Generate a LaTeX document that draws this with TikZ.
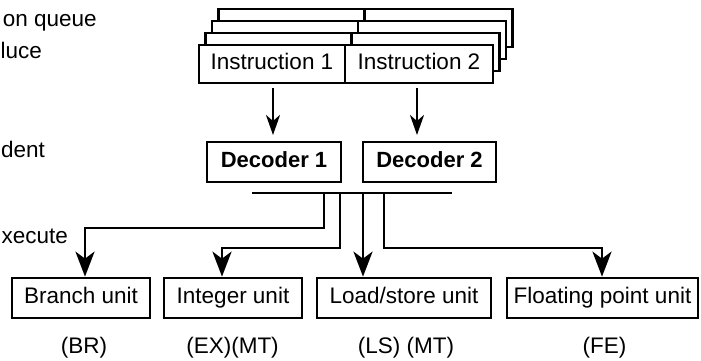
\documentclass[tikz,border=0pt]{standalone}
\usepackage{fontspec}
\setmainfont{Liberation Sans}
\usetikzlibrary{arrows.meta,calc}
\tikzset{
  txt/.style={font=\fontsize{22.5pt}{27pt}\selectfont, inner sep=0pt},
  box/.style={draw=black, fill=white, line width=2.7pt, inner sep=0pt, minimum height=38pt,
    text height=16pt, text depth=4.5pt, font=\fontsize{22.5pt}{27pt}\selectfont},
  bbox/.style={box, minimum height=40pt},
  conn/.style={line width=2.7pt, line cap=rect},
  smallarrow/.style={line width=2.5pt, -{Stealth[length=20pt,width=14pt,inset=6pt]}},
  bigarrow/.style={line width=2.7pt, -{Stealth[length=25pt,width=19pt,inset=7pt]}},
}
\begin{document}
\begin{tikzpicture}[x=1pt,y=-1pt]
\useasboundingbox (0,0) rectangle (701,360);
\fill[white] (0,0) rectangle (701,360);
% stacked instruction queue (back to front)
\node[box, minimum width=146pt] (s3a) at (291.5,28) {};
\node[box, minimum width=148pt] (s3b) at (438.5,28) {};
\node[box, minimum width=146pt] (s2a) at (285,40) {};
\node[box, minimum width=148pt] (s2b) at (432,40) {};
\node[box, minimum width=146pt] (s1a) at (278.5,52) {};
\node[box, minimum width=148pt] (s1b) at (425.5,52) {};
\node[box, minimum width=146pt] (i1) at (272,64) {Instruction 1};
\node[box, minimum width=148pt] (i2) at (419,64) {Instruction 2};
% decoders
\node[bbox, minimum width=134pt, font=\fontsize{22pt}{27pt}\selectfont\bfseries] (d1) at (274,162) {Decoder 1};
\node[bbox, minimum width=133pt, font=\fontsize{22pt}{27pt}\selectfont\bfseries] (d2) at (429.5,162) {Decoder 2};
\coordinate (a1) at (273,88);
\coordinate (a2) at (417,88);
\draw[smallarrow] (a1) -- (273,135);
\draw[smallarrow] (a2) -- (417,135);
% execution units
\node[bbox, minimum width=138pt] (br) at (81,298) {Branch unit};
\node[bbox, minimum width=138pt] (int) at (233,298) {Integer unit};
\node[bbox, minimum width=174pt] (ls) at (404,298) {Load/store unit};
\node[bbox, minimum width=191pt] (fp) at (602.5,298) {Floating point unit};
% bus
\coordinate (busL) at (253,193);
\coordinate (busR) at (451,193);
\draw[conn] (busL) -- (busR);
\coordinate (t1) at (324,193);
\coordinate (t2) at (340,193);
\coordinate (t3) at (363,193);
\coordinate (t4) at (384,193);
\coordinate (c1) at (85,228);
\coordinate (c2) at (222,248);
\coordinate (c4) at (602,248);
\draw[conn] (t1) |- (c1);
\draw[bigarrow] (c1) -- (c1 |- br.north);
\draw[conn] (t2) |- (c2);
\draw[bigarrow] (c2) -- (c2 |- int.north);
\draw[bigarrow] (t3) -- (t3 |- ls.north);
\draw[conn] (t4) |- (c4);
\draw[bigarrow] (c4) -- (c4 |- fp.north);
% unit labels
\node[txt, anchor=base] (lbr) at (84,353) {(BR)};
\node[txt, anchor=base] (lint) at (232.5,353) {(EX)(MT)};
\node[txt, anchor=base] (lls) at (406,353) {(LS) (MT)};
\node[txt, anchor=base] (lfp) at (604.5,353) {(FE)};
% clipped side texts
\node[txt, anchor=base east] (q1) at (97,26) {on queue};
\node[txt, anchor=base west] (q2) at (0.5,58) {luce};
\node[txt, anchor=base west] (q3) at (1,157) {dent};
\node[txt, anchor=base east] (q4) at (68,243) {xecute};
\end{tikzpicture}
\end{document}
